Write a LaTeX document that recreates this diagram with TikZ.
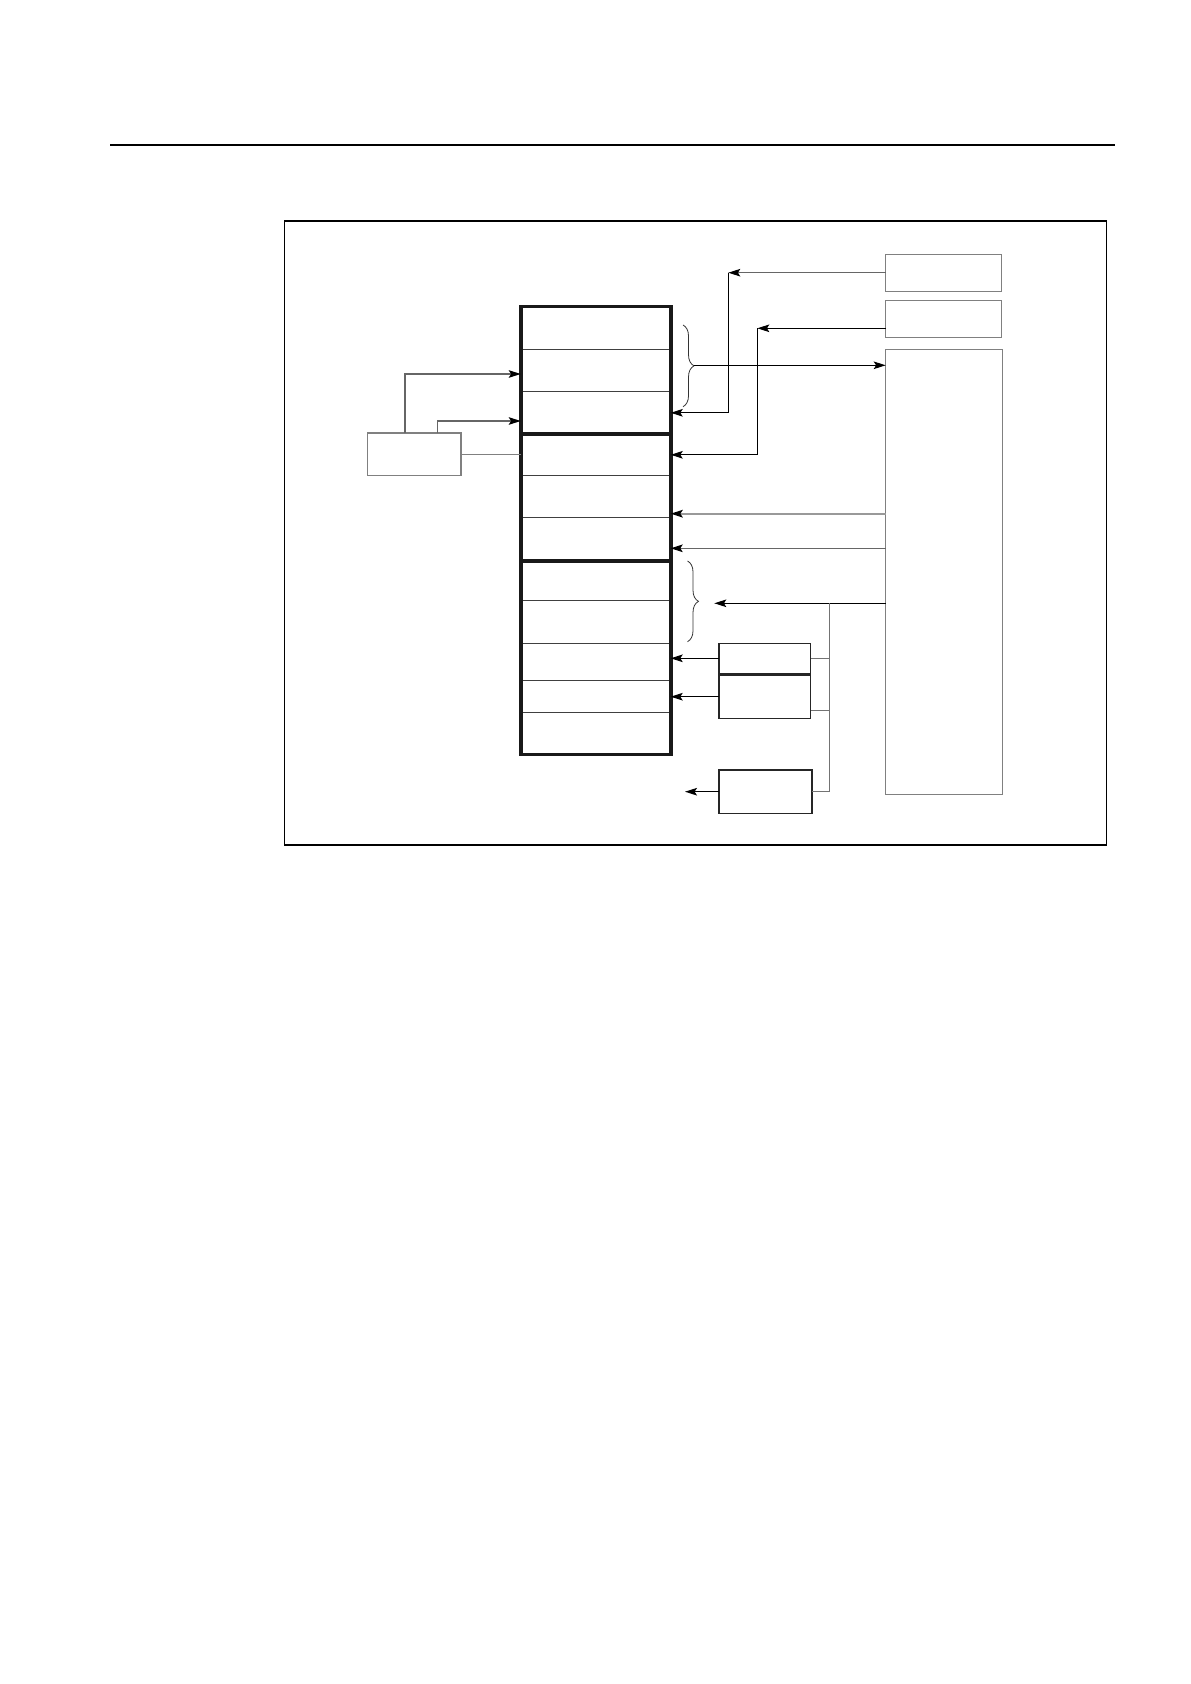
\documentclass[tikz,border=0pt]{standalone}
\usetikzlibrary{arrows.meta,decorations.pathreplacing,fit}
\tikzset{
  cell/.style={draw=black!75, line width=0.5pt, minimum width=75pt, inner sep=0pt, outer sep=0pt},
  part/.style={draw=black!90, line width=1.8pt, inner sep=0pt, outer sep=0pt},
  blk/.style={draw=black!50, line width=0.6pt, inner sep=0pt, outer sep=0pt},
  arr/.style={-{Stealth[length=6pt,width=3.8pt,inset=1.2pt,black]}, line width=0.55pt},
  brc/.style={decorate, decoration={brace, amplitude=5.5pt}, line width=0.4pt, black!80},
}
\begin{document}
\begin{tikzpicture}[x=0.5pt, y=-0.5pt]
      \useasboundingbox (0,0) rectangle (1190,1684);
      \draw[line width=0.7pt] (110,145) -- (1115,145);
      \draw[line width=0.7pt] (284.3,221) rectangle (1106.3,845);
      \draw[line width=1.3pt] (284.3,845) -- (1106.3,845);

      % register column
      \node[cell, minimum height=21.3pt] (reg1) at (595.7,328){};
      \node[cell, minimum height=21pt] (reg2) at (595.7,370.3){};
      \node[cell, minimum height=21.5pt] (reg3) at (595.7,412.8){};
      \node[cell, minimum height=20.5pt] (reg4) at (595.7,454.8){};
      \node[cell, minimum height=21pt] (reg5) at (595.7,496.3){};
      \node[cell, minimum height=21.85pt] (reg6) at (595.7,539.2){};
      \node[cell, minimum height=19.85pt] (reg7) at (595.7,580.9){};
      \node[cell, minimum height=21.3pt] (reg8) at (595.7,622){};
      \node[cell, minimum height=18.5pt] (reg9) at (595.7,661.8){};
      \node[cell, minimum height=16pt] (reg10) at (595.7,696.3){};
      \node[cell, minimum height=21pt] (reg11) at (595.7,733.3){};
      \node[part, fit=(reg1)(reg3)] (sec1){};
      \node[part, fit=(reg4)(reg6)] (sec2){};
      \node[part, fit=(reg7)(reg11)] (sec3){};

      % boxes
      \node[blk, minimum width=46.85pt, minimum height=21.15pt] (ctl) at (414.2,454.2){};
      \node[blk, minimum width=58pt, minimum height=18.7pt] (src1) at (943.7,273){};
      \node[blk, minimum width=58pt, minimum height=18.7pt] (src2) at (943.7,319){};
      \node[blk, minimum width=58.5pt, minimum height=222.6pt] (mem) at (944.2,571.9){};
      \node[blk, draw=black!85, minimum width=45.85pt, minimum height=15pt] (unitA) at (764.9,658.3){};
      \node[blk, draw=black!85, minimum width=45.85pt, minimum height=21.65pt] (unitB) at (764.9,696.7){};
      \node[blk, draw=black!85, minimum width=46.5pt, minimum height=21.65pt] (unitC) at (765.5,791.7){};

      % left side
      \coordinate (k3) at (405,374);
      \coordinate (k4) at (437.3,421);
      \draw[arr, black!60] (ctl.north -| k3) |- (k3 -| reg2.west);
      \draw[arr, black!60] (ctl.north -| k4) |- (k4 -| reg3.west);
      \draw[black!50, line width=0.5pt] (ctl.east) -- (ctl.east -| reg4.west);

      % top sources
      \coordinate (k1) at (728.3,272.7);
      \coordinate (k2) at (757.3,328.3);
      \draw[arr, black!60] (src1.west |- k1) -- (k1);
      \draw[arr] (k1) |- (reg3.east);
      \draw[arr] (src2.west |- k2) -- (k2);
      \draw[arr] (k2) |- (reg4.east);

      % braces
      \draw[brc] (683,325) -- (683,406.7);
      \coordinate (t1) at (694,365.3);
      \draw[arr] (t1) -- (t1 -| mem.west);
      \draw[brc] (687.5,561) -- (687.5,641.7);

      % from memory
      \coordinate (k5) at (885.7,513.7);
      \coordinate (k6) at (885.7,548.3);
      \coordinate (k7) at (714.3,603.3);
      \draw[arr, black!40, line width=1pt] (mem.west |- k5) -- (k5 -| reg5.east);
      \draw[arr, black!60] (mem.west |- k6) -- (k6 -| reg6.east);
      \draw[arr] (mem.west |- k7) -- (k7);

      % bus to units
      \coordinate (j1) at (829.3,603.3);
      \coordinate (j2) at (829.3,791.7);
      \coordinate (k8) at (810.7,710.7);
      \coordinate (k9) at (685,791.7);
      \draw[black!55, line width=0.5pt] (j1) -- (j2);
      \draw[black!55, line width=0.5pt] (unitA.east) -- (unitA.east -| j1);
      \draw[black!55, line width=0.5pt] (k8) -- (k8 -| j1);
      \draw[black!55, line width=0.5pt] (unitC.east) -- (j2);
      \draw[arr] (unitA.west) -- (unitA.west -| reg9.east);
      \draw[arr] (unitB.west) -- (unitB.west -| reg10.east);
      \draw[arr] (unitC.west) -- (k9);

    \end{tikzpicture}
\end{document}
